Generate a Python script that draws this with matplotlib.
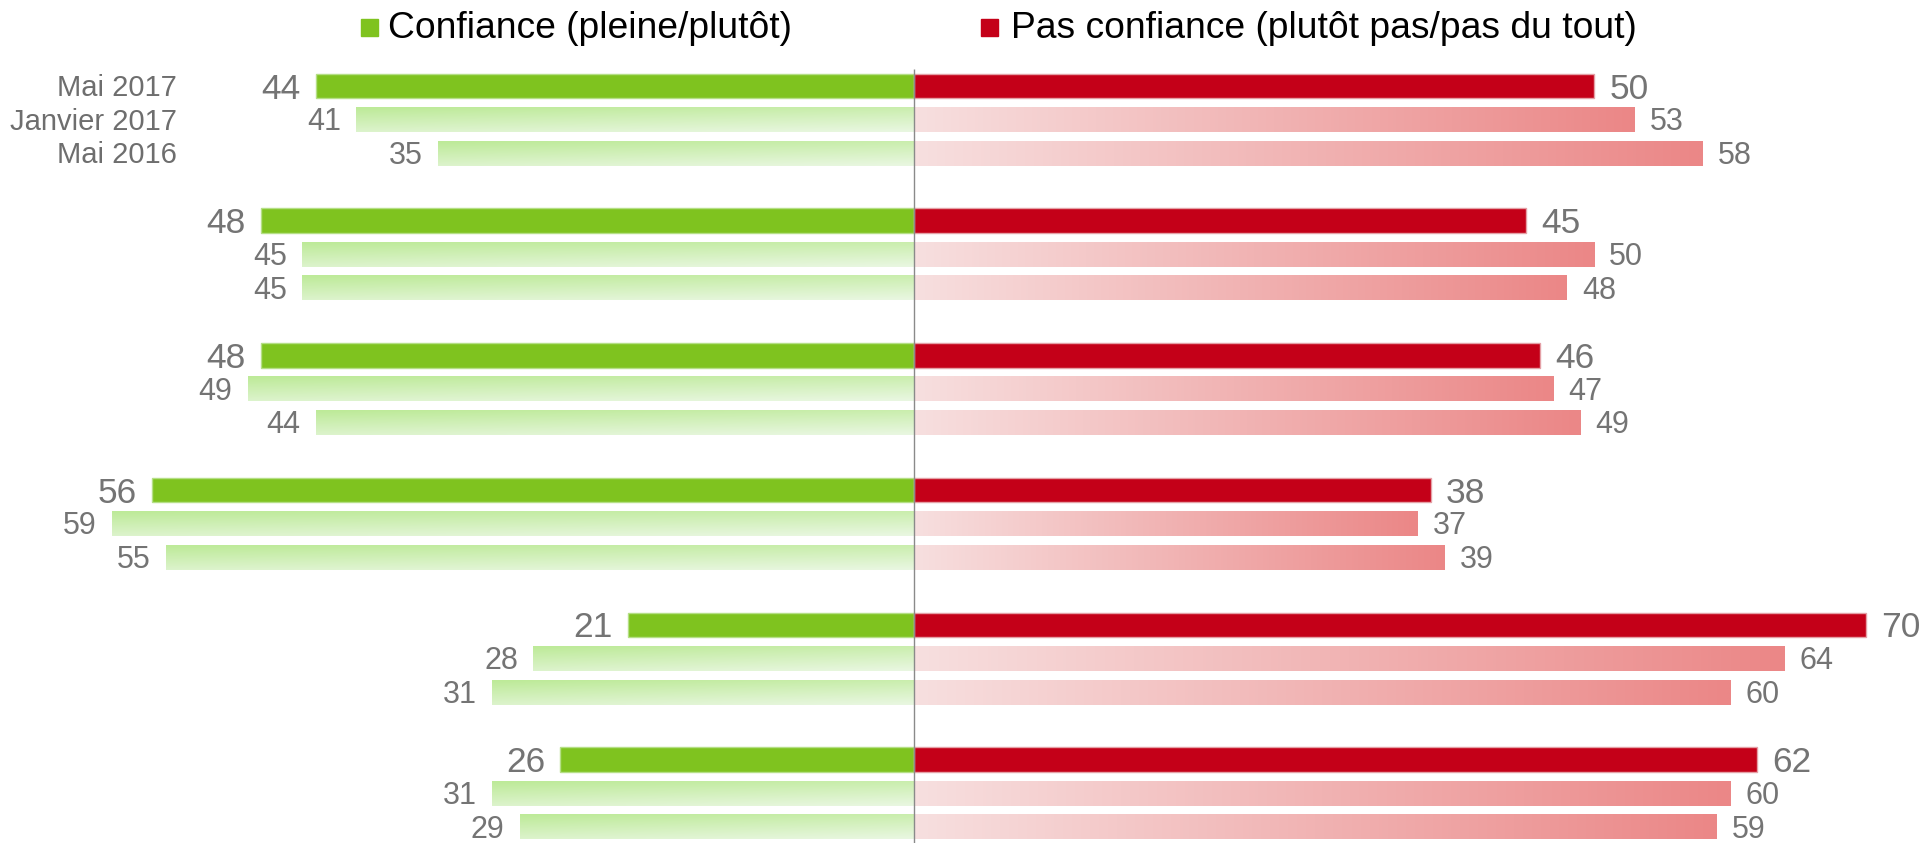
import numpy as np
import matplotlib
matplotlib.use('Agg')
import matplotlib.pyplot as plt
from matplotlib.colors import to_rgb
from matplotlib.patches import Rectangle

plt.rcParams['font.family'] = ['Liberation Sans', 'DejaVu Sans']

# data
series = ['Mai 2017', 'Janvier 2017', 'Mai 2016']
confiance = [[44, 41, 35],
             [48, 45, 45],
             [48, 49, 44],
             [56, 59, 55],
             [21, 28, 31],
             [26, 31, 29]]
pas_confiance = [[50, 53, 58],
                 [45, 50, 48],
                 [46, 47, 49],
                 [38, 37, 39],
                 [70, 64, 60],
                 [62, 60, 59]]
legend_labels = ['Confiance (pleine/plutôt)', 'Pas confiance (plutôt pas/pas du tout)']

green = '#7fc31f'
red = '#c40018'
label_gray = '#747474'

W, H = 1921, 843
fig = plt.figure(figsize=(W / 100, H / 100), dpi=100)
ax = fig.add_axes([0, 0, 1, 1])
ax.axis('off')

bar_h = 0.73


def grad_bar(x0, x1, y, c1, c2, wx, wy):
    nx, ny = 80, 20
    xs = np.linspace(0, 1, nx)[None, :]
    ys = np.linspace(0, 1, ny)[:, None]
    t = np.clip(wx * xs + wy * ys, 0, 1)[..., None]
    img = (1 - t) * np.array(to_rgb(c1)) + t * np.array(to_rgb(c2))
    ax.imshow(img, extent=(x0, x1, y + bar_h / 2, y - bar_h / 2), origin='upper',
              aspect='auto', interpolation='bilinear', zorder=2)


for g in range(len(confiance)):
    for s in range(len(series)):
        r = 4 * g + s
        vl = confiance[g][s]
        vr = pas_confiance[g][s]
        if s == 0:
            ax.barh(r, -vl, height=bar_h, color=green, edgecolor='#b5df86', linewidth=1, zorder=3)
            ax.barh(r, vr, height=bar_h, color=red, edgecolor='#e4a0a6', linewidth=1, zorder=3)
            fs = 25.5
        else:
            # light gradient bars: green darker top-left, red darker towards the outer end
            grad_bar(-vl, 0, r, '#bdea98', '#e9f7e1', 0.3, 0.7)
            grad_bar(0, vr, r, '#f7dfdf', '#eb8787', 1.0, 0.0)
            fs = 22
        dy = -0.085 * fs
        ax.annotate(str(vl), xy=(-vl, r), xytext=(-11, dy), textcoords='offset points',
                    ha='right', va='center', fontsize=fs, color=label_gray)
        ax.annotate(str(vr), xy=(vr, r), xytext=(11, dy), textcoords='offset points',
                    ha='left', va='center', fontsize=fs, color=label_gray)

# series names next to the first group
for s, name in enumerate(series):
    ax.annotate(name, xy=(177 / W, s), xycoords=('axes fraction', 'data'),
                xytext=(0, -1.5), textcoords='offset points',
                ha='right', va='center', fontsize=21, color='#6e6e6e')

# center line
ax.vlines(0, -0.5, 23, color='#8a8a8a', linewidth=1, zorder=5)

ax.set_xlim(-914 / 13.6, (W - 914) / 13.6)
ax.set_ylim((H - 86) / 33.68, -86 / 33.68)

# legend
for x_sq, x_txt, col, lab in [(361, 388, green, legend_labels[0]),
                               (981, 1011, red, legend_labels[1])]:
    fig.patches.append(Rectangle((x_sq / W, 1 - 36 / H), 17 / W, 17 / H,
                                 transform=fig.transFigure, color=col))
    fig.text(x_txt / W, 1 - 29 / H, lab, ha='left', va='center', fontsize=26.8, color='black')

plt.savefig('out.png', dpi=100)
